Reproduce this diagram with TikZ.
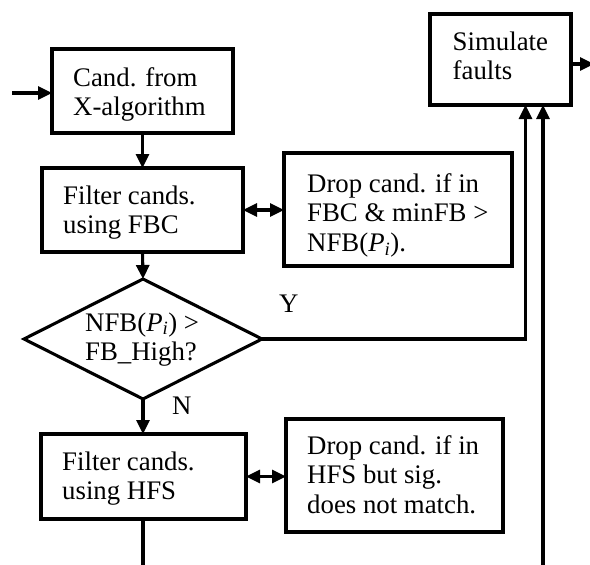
\documentclass[tikz,border=0pt]{standalone}
\usepackage{fontspec}
\setmainfont{Liberation Serif}
\usetikzlibrary{arrows.meta,shapes.geometric}
\begin{document}
\begin{tikzpicture}[x=1pt,y=-1pt,
  flow/.style={draw, line width=3.1pt, inner sep=0pt, outer sep=0pt},
  box/.style={flow, rectangle},
  decision/.style={flow, diamond},
  txt/.style={inner sep=0pt, anchor=base west, font=\fontsize{26.8}{29.8}\selectfont},
  conn/.style={line width=3.1pt},
  arr/.style={conn, -{Triangle[length=14pt,width=13pt]}},
  darr/.style={conn, {Triangle[length=14pt,width=13pt]}-{Triangle[length=14pt,width=13pt]}},
]
\useasboundingbox (0,0) rectangle (590,565);

% boxes
\node[box, minimum width=181pt, minimum height=84pt] (cand) at (142.5,91) {};
\node[box, minimum width=201pt, minimum height=84pt] (fbc) at (142.5,210) {};
\node[box, minimum width=228pt, minimum height=113pt] (dropfbc) at (398,209.5) {};
\node[decision, minimum width=238pt, minimum height=120pt] (dia) at (143,339) {};
\node[box, minimum width=205pt, minimum height=85pt] (hfs) at (143.5,476.5) {};
\node[box, minimum width=217pt, minimum height=113pt] (drophfs) at (394.5,475.5) {};
\node[box, minimum width=141pt, minimum height=91pt] (sim) at (500.5,59.5) {};

% texts
\node[txt] (candT) at (73,86) {\vtop{\hbox{Cand. from}\hbox{X-algorithm}}};
\node[txt] (fbcT) at (63,204) {\vtop{\hbox{Filter cands.}\hbox{using FBC}}};
\node[txt] (dropfbcT) at (307,192) {\vtop{\hbox{Drop cand. if in}\hbox{FBC \& minFB >}\hbox{NFB(\textit{P}\textsubscript{\textit{i}}).}}};
\node[txt] (diaT) at (85,331) {\vtop{\hbox{NFB(\textit{P}\textsubscript{\textit{i}}) >}\hbox{FB\_High?}}};
\node[txt] (hfsT) at (62,470) {\vtop{\hbox{Filter cands.}\hbox{using HFS}}};
\node[txt] (drophfsT) at (307,454) {\vtop{\hbox{Drop cand. if in}\hbox{HFS but sig.}\hbox{does not match.}}};
\node[txt] (simT) at (452.5,50) {\vtop{\hbox{Simulate}\hbox{faults}}};
\node[txt] (yes) at (279,312) {Y};
\node[txt] (no) at (172,414) {N};

% connectors
\coordinate (src) at (12,93);
\draw[arr] (src) -- (src -| cand.west);
\draw[arr] (cand.south) -- (fbc.north);
\draw[darr] (fbc.east) -- (fbc.east -| dropfbc.west);
\draw[arr] (fbc.south) -- (dia.north);
\coordinate (yturn) at (525.5,339);
\draw[arr] (dia.east) -- (yturn) -- (yturn |- sim.south);
\draw[arr] (dia.south) -- (dia.south |- hfs.north);
\draw[darr] (hfs.east) -- (hfs.east -| drophfs.west);
\coordinate (hfsout) at (143,565);
\draw[conn] (hfs.south -| hfsout) -- (hfsout);
\coordinate (feed) at (543,565);
\draw[arr] (feed) -- (feed |- sim.south);
\coordinate (simout) at (594,64);
\draw[arr] (simout -| sim.east) -- (simout);
\end{tikzpicture}
\end{document}
